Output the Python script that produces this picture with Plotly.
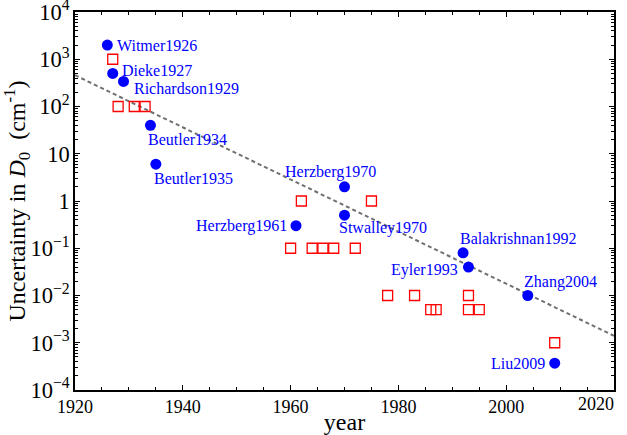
import numpy as np
import plotly.graph_objects as go

# Published determinations (blue dots, labelled)
pub_names = ["Witmer1926", "Dieke1927", "Richardson1929", "Beutler1934", "Beutler1935",
             "Herzberg1961", "Herzberg1970", "Stwalley1970", "Balakrishnan1992",
             "Eyler1993", "Zhang2004", "Liu2009"]
pub_years = [1926, 1927, 1929, 1934, 1935, 1961, 1970, 1970, 1992, 1993, 2004, 2009]
pub_unc = [2000, 500, 340, 40, 6, 0.3, 2, 0.5, 0.08, 0.04, 0.01, 3.7e-4]

# Other determinations (red open squares)
other_years = [1927, 1928, 1931, 1933, 1962, 1975, 1960, 1964, 1966, 1968, 1972,
               1978, 1983, 1993, 1986, 1987, 1993, 1995, 2009]
other_unc = [1000, 100, 100, 100, 1, 1, 0.1, 0.1, 0.1, 0.1, 0.1,
             0.01, 0.01, 0.01, 0.005, 0.005, 0.005, 0.005, 0.001]

# Trend line end points
trend_years = [1920, 2020]
trend_unc = [460, 0.0014]

# x tick labels
x_ticks = [1920, 1940, 1960, 1980, 2000, 2020]

# Label placement: (xanchor, xshift, yshift) in pixels
label_pos = [("left", 8, 0), ("left", 7, 3), ("left", 8, -7), ("left", -4, -14),
             ("left", -4, -14), ("right", -7, 0), ("center", -14, 15), ("left", -8, -13),
             ("left", -5, 14), ("right", -8, -3), ("left", -6, 14), ("right", -8, 0)]

SERIF = "Liberation Serif"

fig = go.Figure()

fig.add_trace(go.Scatter(
    x=trend_years, y=trend_unc, mode="lines",
    line=dict(color="#707070", width=2, dash="4px,3px"),
    showlegend=False, hoverinfo="skip"))

fig.add_trace(go.Scatter(
    x=other_years, y=other_unc, mode="markers",
    marker=dict(symbol="square-open", size=10, color="#ff0000",
                line=dict(width=1.3, color="#ff0000")),
    showlegend=False))

fig.add_trace(go.Scatter(
    x=pub_years, y=pub_unc, mode="markers",
    marker=dict(symbol="circle", size=11, color="#0000ff"),
    showlegend=False))

for name, yr, u, (xa, xs, ys) in zip(pub_names, pub_years, pub_unc, label_pos):
    fig.add_annotation(
        x=yr, y=np.log10(u), xref="x", yref="y", text=name, showarrow=False,
        xanchor=xa, yanchor="middle", xshift=xs, yshift=ys,
        font=dict(family=SERIF, size=16, color="#0000ff"))

tickfont = dict(family=SERIF, size=18, color="black")

# The last x tick label sits flush with the right end of the axis
fig.add_annotation(
    x=x_ticks[-1], y=0, xref="x", yref="paper", text=str(x_ticks[-1]),
    showarrow=False, xanchor="right", yanchor="top", yshift=-2, xshift=2,
    font=tickfont)

axis_common = dict(
    showline=True, linecolor="black", linewidth=1.5, mirror="ticks",
    ticks="inside", ticklen=5, tickwidth=1, tickcolor="black",
    showgrid=False, zeroline=False, tickfont=tickfont,
    automargin=False, ticklabeloverflow="allow",
)

fig.update_xaxes(
    range=[1920, 2020], tickvals=x_ticks[:-1], ticktext=[str(v) for v in x_ticks[:-1]],
    minor=dict(dtick=5, tick0=1920, ticks="inside", ticklen=3, tickcolor="black"),
    title=dict(text="year", font=dict(family=SERIF, size=24, color="black"), standoff=2),
    **axis_common)

fig.update_yaxes(
    type="log", range=[-4, 4], dtick=1, exponentformat="power",
    minor=dict(dtick="D1", ticks="inside", ticklen=3, tickcolor="black"),
    title=dict(text="Uncertainty in <i>D</i><sub>0</sub>&nbsp; (cm<sup>-1</sup>)",
               font=dict(family=SERIF, size=24, color="black"), standoff=2),
    **axis_common)

fig.update_layout(
    width=627, height=435,
    margin=dict(l=75, r=13, t=12, b=45),
    paper_bgcolor="white", plot_bgcolor="white",
)

fig.write_html("out.html")
